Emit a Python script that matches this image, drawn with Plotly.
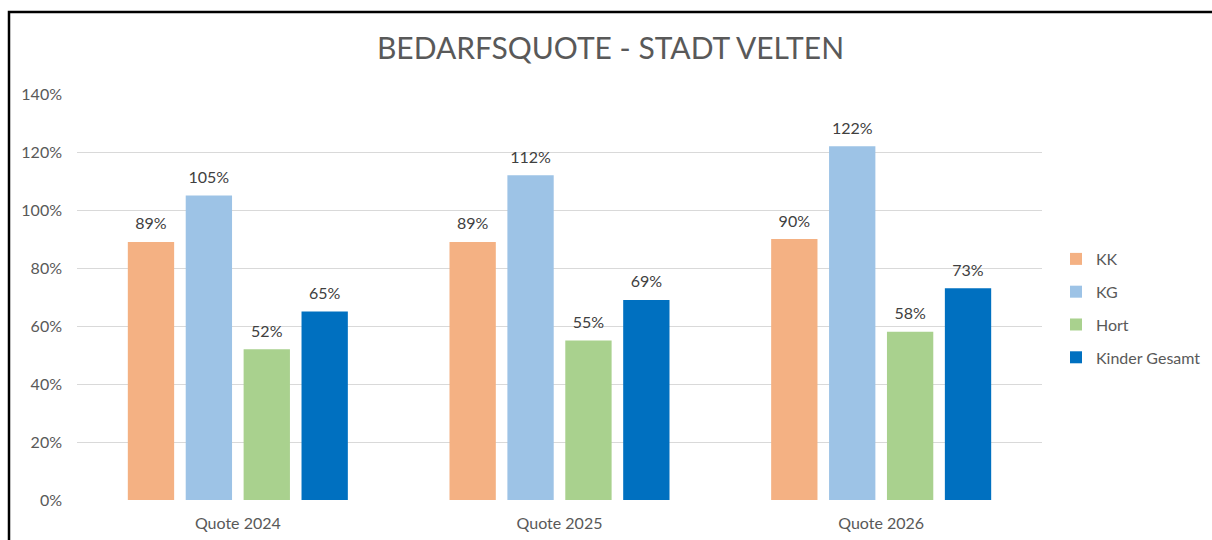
import plotly.graph_objects as go

categories = ["Quote 2024", "Quote 2025", "Quote 2026"]
series_names = ["KK", "KG", "Hort", "Kinder Gesamt"]
kk = [89, 89, 90]
kg = [105, 112, 122]
hort = [52, 55, 58]
kinder_gesamt = [65, 69, 73]
y_ticks = [0, 20, 40, 60, 80, 100, 120, 140]
y_tick_labels = ["0%", "20%", "40%", "60%", "80%", "100%", "120%", "140%"]

colors = ["#F4B183", "#9DC3E6", "#A9D18E", "#0070C0"]
FONT = "Lato"
TXT = "#595959"
FS = 16

fig = go.Figure()
all_series = [kk, kg, hort, kinder_gesamt]
for name, vals, col in zip(series_names, all_series, colors):
    fig.add_trace(go.Bar(
        x=categories, y=vals, name=name, marker=dict(color=col, line=dict(width=0)),
        legendgroup=name, hoverinfo="skip",
    ))
for name, vals in zip(series_names, all_series):
    fig.add_trace(go.Scatter(
        x=categories, y=vals, mode="markers+text", showlegend=False,
        text=[f"{v}%" for v in vals], textposition="top center",
        textfont=dict(family=FONT, size=FS, color="#404040"),
        marker=dict(size=12, color="rgba(0,0,0,0)"),
        hoverinfo="skip", cliponaxis=False,
    ))

fig.update_layout(
    width=1212, height=540,
    margin=dict(l=77, r=170, t=94, b=40, autoexpand=False),
    paper_bgcolor="white", plot_bgcolor="white",
    barmode="group", bargap=0.28, bargroupgap=0.2,
    scattermode="group", scattergap=0.28,
    font=dict(family=FONT, size=FS, color=TXT),
    title=dict(text="BEDARFSQUOTE - STADT VELTEN", x=610.5 / 1212, xanchor="center",
               y=1 - 48 / 540, yanchor="middle", yref="container",
               font=dict(family=FONT, size=30, color=TXT)),
    showlegend=True,
    legend=dict(x=(1056 - 77) / 965, xanchor="left", y=0.4717, yanchor="middle",
                font=dict(family=FONT, size=FS, color=TXT),
                traceorder="grouped", tracegroupgap=9, bgcolor="rgba(0,0,0,0)"),
    xaxis=dict(showgrid=False, showline=False, ticks="", zeroline=False, automargin=False,
               tickfont=dict(family=FONT, size=FS, color=TXT), ticklabelstandoff=12),
    yaxis=dict(range=[0, 140], tickvals=y_ticks, ticktext=y_tick_labels, automargin=False,
               showgrid=True, gridcolor="#D9D9D9", gridwidth=1, zeroline=False,
               showline=False, ticks="", ticklabelstandoff=14,
               tickfont=dict(family=FONT, size=FS, color=TXT)),
    shapes=[dict(type="rect", xref="paper", yref="paper",
                 x0=(9 - 77) / 965, x1=(1240 - 77) / 965,
                 y0=(500 - 570) / 406, y1=(500 - 12) / 406,
                 line=dict(color="black", width=2.5), fillcolor="rgba(0,0,0,0)",
                 layer="below")],
)

fig.write_html(
    "out.html",
    config={"displayModeBar": False},
    post_script="document.body.style.margin='0';document.body.style.overflow='hidden';",
)
